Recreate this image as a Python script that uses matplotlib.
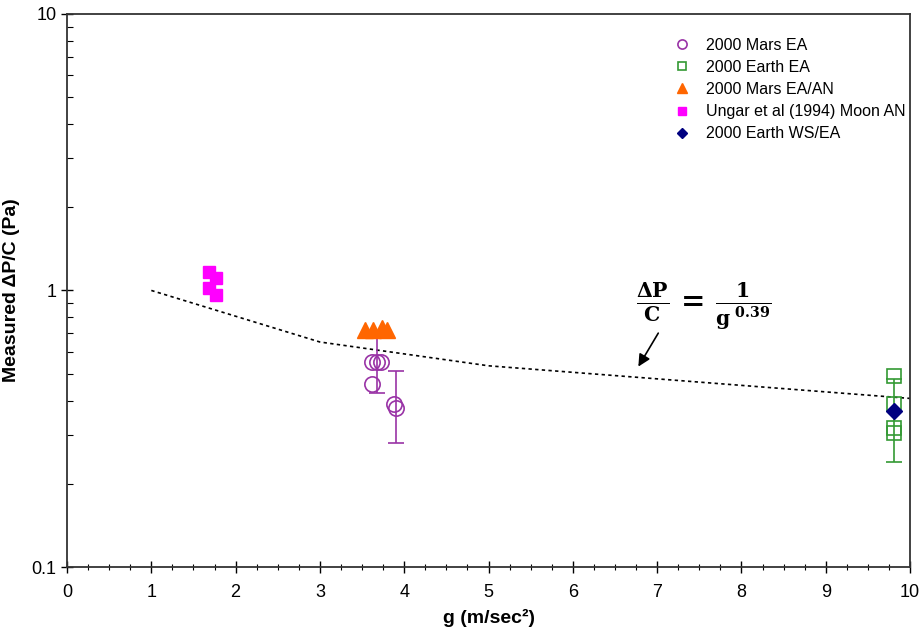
import matplotlib
matplotlib.use("Agg")
import matplotlib.pyplot as plt
from matplotlib.ticker import MultipleLocator, LogLocator, FixedFormatter, NullFormatter

plt.rcParams['font.family'] = ['Liberation Sans', 'DejaVu Sans']
plt.rcParams['mathtext.fontset'] = 'dejavuserif'

# measured pressure drop per unit length vs gravity
mars_ea_g = [3.62, 3.68, 3.72, 3.62, 3.88, 3.90]
mars_ea_dp = [0.55, 0.55, 0.55, 0.46, 0.39, 0.375]

earth_ea_g = [9.81, 9.81, 9.81, 9.81]
earth_ea_dp = [0.49, 0.39, 0.317, 0.304]

mars_ean_g = [3.53, 3.63, 3.74, 3.80]
mars_ean_dp = [0.72, 0.72, 0.73, 0.72]

moon_g = [1.68, 1.77, 1.68, 1.77]
moon_dp = [1.17, 1.11, 1.02, 0.96]

earth_ws_g = [9.81]
earth_ws_dp = [0.368]

# error bars: (g, centre, lower, upper)
mars_err = [(3.68, 0.55, 0.125, 0.125), (3.90, 0.38, 0.10, 0.13)]
earth_err = [(9.81, 0.36, 0.12, 0.12)]

# fitted trend dP/C = 1/g^0.39 evaluated at a few g values
fit_g = [1, 3, 5, 10]
fit_dp = [1.0, 0.651, 0.534, 0.407]

purple = '#9933A6'
green = '#339933'
orange = '#FF6600'
magenta = '#FF00FF'
navy = '#000080'

fig = plt.figure(figsize=(9.23, 6.31), dpi=100)
ax = fig.add_axes([0.0726, 0.1014, 0.9134, 0.8766])

ax.plot(fit_g, fit_dp, linestyle=(0, (2, 2)), color='black', linewidth=1.2, zorder=1)

for g, c, lo, hi in mars_err:
    ax.errorbar([g], [c], yerr=[[lo], [hi]], fmt='none', ecolor=purple,
                elinewidth=1.2, capsize=6, capthick=1.2, zorder=2)
for g, c, lo, hi in earth_err:
    ax.errorbar([g], [c], yerr=[[lo], [hi]], fmt='none', ecolor=green,
                elinewidth=1.2, capsize=6, capthick=1.2, zorder=2)

ax.plot(mars_ea_g, mars_ea_dp, 'o', ms=11, mfc='none', mec=purple, mew=1.2,
        linestyle='none', label='2000 Mars EA', zorder=3)
ax.plot(earth_ea_g, earth_ea_dp, 's', ms=10, mfc='none', mec=green, mew=1.2,
        linestyle='none', label='2000 Earth EA', zorder=3)
ax.plot(mars_ean_g, mars_ean_dp, '^', ms=11, color=orange, mec=orange,
        linestyle='none', label='2000 Mars EA/AN', zorder=4)
ax.plot(moon_g, moon_dp, 's', ms=9, color=magenta, mec=magenta,
        linestyle='none', label='Ungar et al (1994) Moon AN', zorder=4)
ax.plot(earth_ws_g, earth_ws_dp, 'D', ms=8, color=navy, mec=navy,
        linestyle='none', label='2000 Earth WS/EA', zorder=5)

ax.set_yscale('log')
ax.set_xlim(0, 10)
ax.set_ylim(0.1, 10)

ax.xaxis.set_major_locator(MultipleLocator(1))
ax.xaxis.set_minor_locator(MultipleLocator(0.25))
ax.set_yticks([0.1, 1, 10])
ax.yaxis.set_major_formatter(FixedFormatter(['0.1', '1', '10']))
ax.yaxis.set_minor_locator(LogLocator(base=10, subs=range(2, 10)))
ax.yaxis.set_minor_formatter(NullFormatter())

ax.tick_params(axis='x', which='major', direction='inout', length=8, width=1, labelsize=13, pad=8)
ax.tick_params(axis='x', which='minor', direction='inout', length=4, width=0.8)
ax.tick_params(axis='y', which='major', direction='inout', length=8, width=1, labelsize=13)
ax.tick_params(axis='y', which='minor', direction='in', length=4, width=0.8)
ax.tick_params(top=False, right=False, which='both')
for s in ax.spines.values():
    s.set_linewidth(1.3)
    s.set_color('#333333')

ax.set_xlabel('g (m/sec²)', fontsize=14, fontweight='bold', labelpad=6)
ax.set_ylabel('Measured ΔP/C (Pa)', fontsize=14, fontweight='bold', labelpad=8)

ax.legend(loc='upper right', bbox_to_anchor=(1.012, 0.983), frameon=False,
          markerscale=0.6, fontsize=11.5, handletextpad=0.8, labelspacing=0.45,
          handlelength=1.5)

# formula for the trend line, with an arrow pointing at it
ax.text(7.55, 0.88, r'$\mathbf{\frac{\Delta P}{C}\,=\,\frac{1}{g^{\ 0.39}}}$',
        fontsize=21, ha='center', va='center')
ax.annotate('', xy=(6.76, 0.52), xytext=(7.03, 0.715),
            arrowprops=dict(arrowstyle='-|>', color='black', lw=1.2,
                            mutation_scale=18))

fig.savefig('out.png', dpi=100)
